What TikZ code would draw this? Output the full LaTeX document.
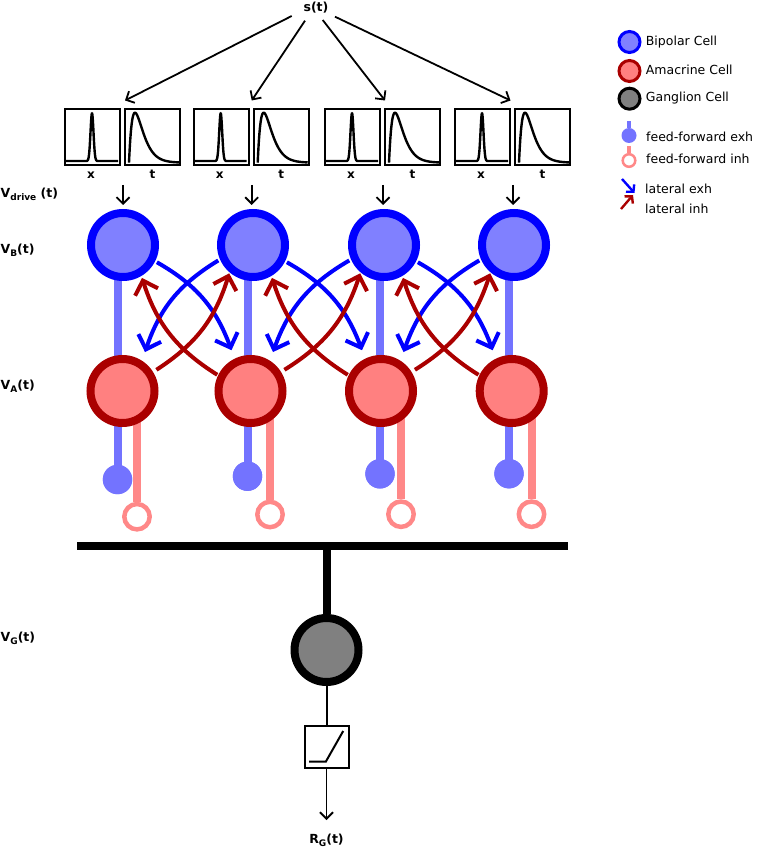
\documentclass[tikz,border=0pt]{standalone}
\usepackage{fontspec}
\setmainfont{DejaVu Sans}
\usetikzlibrary{arrows.meta,calc}
\definecolor{bipB}{HTML}{0000FF}
\definecolor{bipF}{HTML}{8080FF}
\definecolor{amaB}{HTML}{AA0000}
\definecolor{amaF}{HTML}{FF8080}
\definecolor{ganF}{HTML}{808080}
\definecolor{stemB}{HTML}{7373FF}
\definecolor{stemR}{HTML}{FF8888}
\newcommand{\lowsub}[1]{\raisebox{-2.8pt}{\fontsize{9pt}{9pt}\selectfont\bfseries #1}}
\tikzset{
  bip/.style={circle, draw=bipB, fill=bipF, line width=8pt, minimum size=64pt, inner sep=0pt},
  ama/.style={circle, draw=amaB, fill=amaF, line width=8pt, minimum size=64pt, inner sep=0pt},
  gan/.style={circle, draw=black, fill=ganF, line width=8pt, minimum size=64pt, inner sep=0pt},
  bstem/.style={draw=stemB, line width=8pt},
  rstem/.style={draw=stemR, line width=8pt},
  bdot/.style={circle, fill=stemB, minimum size=29.4pt, inner sep=0pt, outer sep=0pt},
  rring/.style={circle, draw=stemR, fill=white, line width=4.5pt, minimum size=25.4pt, inner sep=0pt},
  latE/.style={draw=bipB, line width=4pt, -{Straight Barb[length=12pt,width=24pt]}},
  latI/.style={draw=amaB, line width=4pt, -{Straight Barb[length=12pt,width=24pt]}},
  arr/.style={draw=black, line width=1.8pt, -{Straight Barb[length=6.5pt,width=13pt]}},
  lbl/.style={font=\fontsize{12.5pt}{14pt}\selectfont\bfseries, inner sep=0pt},
  flbl/.style={font=\fontsize{12pt}{14pt}\selectfont\bfseries, inner sep=0pt, anchor=base},
  leg/.style={font=\fontsize{12.5pt}{14pt}\selectfont, inner sep=0pt, anchor=base west},
  fbox/.style={draw=black, line width=2pt},
  fcurve/.style={draw=black, line width=2.4pt, line join=round},
}
\begin{document}
\begin{tikzpicture}[x=1pt, y=-1pt]
\useasboundingbox (0,0) rectangle (760,866);

% ---------- source and filters ----------
\node[lbl, anchor=base] (s) at (316,11.7) {s(t)};
\coordinate (s1) at ($(s.base)+(-24.3,4.3)$);
\coordinate (s2) at ($(s.base)+(-11,9)$);
\coordinate (s3) at ($(s.base)+(6.7,8.3)$);
\coordinate (s4) at ($(s.base)+(19,5)$);

\foreach \i/\c/\e in {1/123/125, 2/251.7/251.7, 3/383/385, 4/513/510.5}{
  \coordinate (fa\i) at (\e,100.5);
  \draw[fbox] (\c-58,109) rectangle (\c-3,165);
  \draw[fbox] (\c+2,109) rectangle (\c+57,165);
  \draw[fcurve] (\c-57,161) -- (\c-39,161)
     plot[variable=\u, domain=-39:-23, samples=60] ({\c+\u}, {161-48*exp(-((\u+31)/2.1)^2)})
     -- (\c-5,161);
  \draw[fcurve] plot[variable=\u, domain=0:50, samples=120] ({\c+6+\u}, {162.7-50*(\u/6)*exp(1-\u/6)});
  \node[flbl] (fx\i) at (\c-32,178.3) {x};
  \node[flbl] (ft\i) at (\c+29.5,178.3) {t};
  \coordinate (d\i) at (\c,185);
}
\foreach \i in {1,2,3,4}{ \draw[arr] (s\i) -- (fa\i); }

% ---------- stems, dots and rings ----------
\foreach \i/\b/\a/\bs/\dy/\rs/\ry in {
  1/123/122.5/117.5/479.5/137/516.7,
  2/253/250.5/247.5/476.2/270/514.5,
  3/384/381/380/473.8/401/514.2,
  4/514/511.7/509/473.7/531.5/514.2}{
  \coordinate (bc\i) at (\b,245);
  \coordinate (ac\i) at (\a,391);
  \node[bdot] (bd\i) at (\bs,\dy) {};
  \node[rring] (rr\i) at (\rs,\ry) {};
  \draw[bstem] (bd\i |- bc\i) -- (bd\i.center);
  \draw[rstem] (rr\i |- ac\i) -- (rr\i);
  \node[bdot] (bdd\i) at (bd\i) {};
}
\foreach \i in {1,2,3,4}{
  \node[bip] (b\i) at (bc\i) {};
  \node[ama] (a\i) at (ac\i) {};
  \draw[arr] (d\i) -- ($(d\i |- b\i.north)+(0,-4)$);
}

% ---------- lateral connections ----------
\foreach \i/\j in {1/2, 2/3, 3/4}{
  \draw[latE] ($(b\i)+(-27:38pt)$) to[bend left=20] ($(a\j)+(115:45pt)$);
  \draw[latE] ($(b\j)+(-156:38pt)$) to[bend right=20] ($(a\i)+(60:45pt)$);
  \draw[latI] ($(a\i)+(32:40pt)$) to[bend right=20] ($(b\j)+(-130:37pt)$);
  \draw[latI] ($(a\j)+(154:37pt)$) to[bend left=20] ($(b\i)+(-60:38pt)$);
}

% ---------- bar and ganglion ----------
\coordinate (barL) at (77,546.3);
\coordinate (barR) at (568,546.3);
\coordinate (barM) at (326.5,546.3);
\draw[line width=8pt] (barL) -- (barR);
\node[gan] (g) at (326.5,650) {};
\draw[line width=8pt] (barM) -- (g);
\node[draw=black, line width=2pt, minimum width=44pt, minimum height=42pt, inner sep=0pt] (nl) at (326.5,747) {};
\draw[line width=2pt] (nl.center)+(-17.3,14.7) -- +(-0.7,14.7) -- +(16.7,-16);
\draw[line width=2pt] (g) -- (nl);
\node[lbl, anchor=base] (rg) at (326.5,843.5) {R\lowsub{G}(t)};
\coordinate (rgt) at (326.5,820);
\draw[arr] (nl) -- (rgt);

% ---------- side labels ----------
\node[lbl, anchor=base west] (vd) at (0.5,198) {V\lowsub{drive} (t)};
\node[lbl, anchor=base west] (vb) at (0.5,254) {V\lowsub{B}(t)};
\node[lbl, anchor=base west] (va) at (0.5,389.3) {V\lowsub{A}(t)};
\node[lbl, anchor=base west] (vg) at (0.5,641.7) {V\lowsub{G}(t)};

% ---------- legend ----------
\node[circle, draw=bipB, fill=bipF, line width=3pt, minimum size=21pt, inner sep=0pt] (lb) at (629.5,42) {};
\node[circle, draw=amaB, fill=amaF, line width=3pt, minimum size=21pt, inner sep=0pt] (la) at (629.5,71) {};
\node[circle, draw=black, fill=ganF, line width=3pt, minimum size=21pt, inner sep=0pt] (lg) at (629.5,98.7) {};
\node[leg] (tb) at (645.7,46) {Bipolar Cell};
\node[leg] (ta) at (645.7,75) {Amacrine Cell};
\node[leg] (tg) at (645.7,101.7) {Ganglion Cell};
\coordinate (lfe) at (629,121.5);
\node[circle, fill=stemB, minimum size=15pt, inner sep=0pt] (ldot) at (629,135.5) {};
\draw[draw=stemB, line width=3.3pt] (lfe) -- (ldot);
\coordinate (lfi) at (629,146);
\node[circle, draw=stemR, fill=white, line width=2.5pt, minimum size=12.6pt, inner sep=0pt] (lring) at (629,160.5) {};
\draw[draw=stemR, line width=3.3pt] (lfi) -- (lring);
\node[leg] (tfe) at (646,141.7) {feed-forward exh};
\node[leg] (tfi) at (646,163.3) {feed-forward inh};
\coordinate (le0) at (622,179);
\coordinate (le1) at (634.5,193);
\draw[draw=bipB, line width=2.4pt, -{Straight Barb[length=5pt,width=11pt]}] (le0) -- (le1);
\coordinate (li0) at (621,209);
\coordinate (li1) at (633,195);
\draw[draw=amaB, line width=2.4pt, -{Straight Barb[length=5pt,width=11pt]}] (li0) -- (li1);
\node[leg] (tle) at (645,193.3) {lateral exh};
\node[leg] (tli) at (645,213.3) {lateral inh};
\end{tikzpicture}
\end{document}
